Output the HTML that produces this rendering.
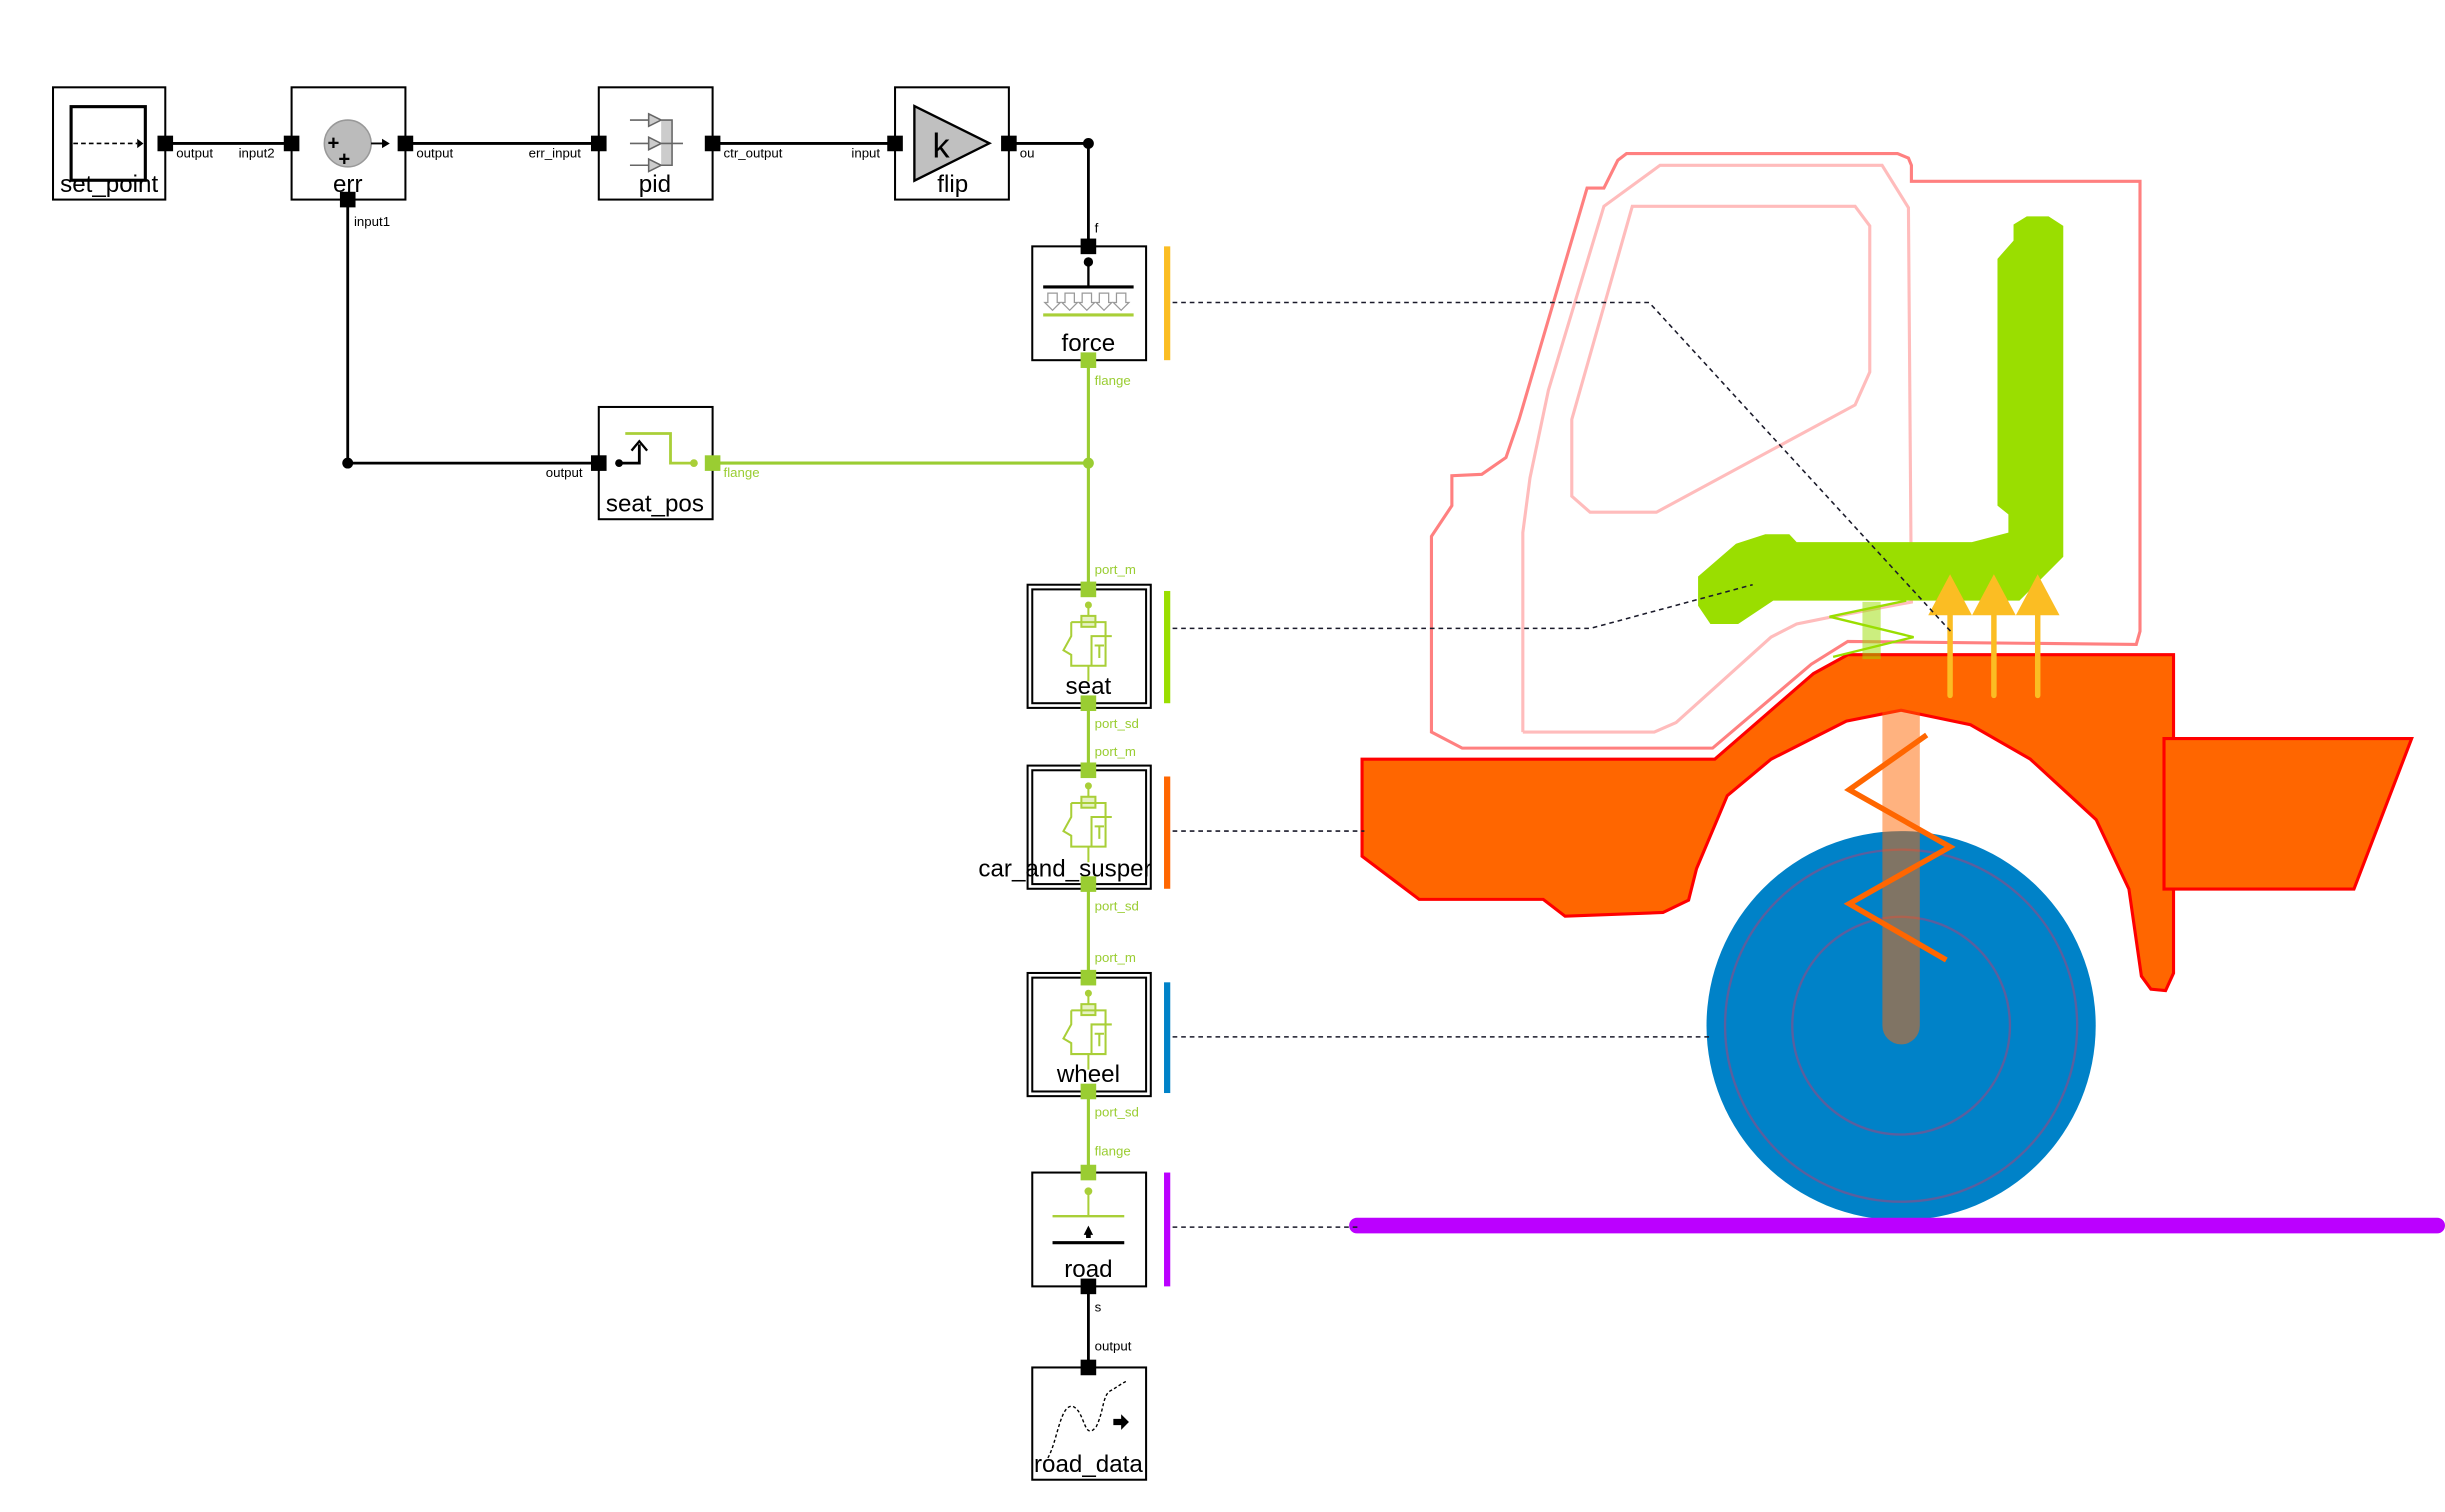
<!DOCTYPE html>
<html><head><meta charset="utf-8"><style>
html,body{margin:0;padding:0;background:#fff;}
svg{display:block;}
text{font-family:"Liberation Sans",sans-serif;}
.lbl{font-size:15.5px;fill:#000;text-anchor:middle;}
.sm{font-size:8.5px;fill:#000;}
.gs{font-size:8.5px;fill:#9acd32;}
</style></head><body>
<svg width="2445" height="1512" viewBox="0 0 1568 969.7" preserveAspectRatio="none" xmlns="http://www.w3.org/2000/svg">
<defs>
<g id="spr" fill="none" stroke="#a9cf38" stroke-width="1.3">
  <circle cx="0" cy="13" r="1.6" fill="#a9cf38"/>
  <line x1="0" y1="13" x2="0" y2="20"/>
  <rect x="-4.5" y="20" width="9" height="7" fill="#e6f2c4"/>
  <path d="M-11,24 H11 V52 H-11 V45 L-16,42 L-11,33 V24"/>
  <path d="M2,52 V33 H15 M4,39 H10 M7,39 V47"/>
  <line x1="0" y1="52" x2="0" y2="62"/>
</g>
</defs>

<g stroke="#000" stroke-width="1.8" fill="none">
  <line x1="106" y1="92" x2="187" y2="92"/>
  <line x1="260" y1="92" x2="384" y2="92"/>
  <line x1="457" y1="92" x2="574" y2="92"/>
  <polyline points="647,92 698,92 698,158"/>
  <polyline points="223,128 223,297 384,297"/>
  <line x1="698" y1="825" x2="698" y2="877"/>
</g>
<circle cx="698" cy="92" r="3.5"/>
<circle cx="223" cy="297" r="3.5"/>
<g stroke="#9acd32" stroke-width="2" fill="none">
  <line x1="457" y1="297" x2="698" y2="297"/>
  <line x1="698" y1="231" x2="698" y2="752"/>
</g>
<circle cx="698" cy="297" r="3.5" fill="#9acd32"/>

<g fill="#fff" stroke="#000" stroke-width="1.3">
  <rect x="34" y="56" width="72" height="72"/>
  <rect x="187" y="56" width="73" height="72"/>
  <rect x="384" y="56" width="73" height="72"/>
  <rect x="574" y="56" width="73" height="72"/>
  <rect x="662" y="158" width="73" height="73"/>
  <rect x="384" y="261" width="73" height="72"/>
  <rect x="662" y="752" width="73" height="73"/>
  <rect x="662" y="877" width="73" height="72"/>
  <rect x="659" y="375" width="79" height="79"/>
  <rect x="662" y="378" width="73" height="73"/>
  <rect x="659" y="491" width="79" height="79"/>
  <rect x="662" y="494" width="73" height="73"/>
  <rect x="659" y="624" width="79" height="79"/>
  <rect x="662" y="627" width="73" height="73"/>
</g>

<rect x="45.6" y="68.4" width="47.6" height="47.2" fill="none" stroke="#000" stroke-width="2"/>
<line x1="47" y1="92" x2="88" y2="92" stroke="#000" stroke-width="1" stroke-dasharray="3,2"/>
<path d="M88,89 L92,92 L88,95Z"/>
<ellipse cx="223" cy="92" rx="15" ry="15" fill="#bbb" stroke="#999"/>
<text x="210" y="96" font-size="13" font-weight="bold">+</text>
<text x="217" y="106" font-size="13" font-weight="bold">+</text>
<line x1="238" y1="92" x2="246" y2="92" stroke="#000" stroke-width="1.2"/><path d="M245,89 L250,92 L245,95Z"/>
<g stroke="#666" stroke-width="1" fill="#ccc">
  <path d="M404,77 H416 M416,73 L424,77 L416,81Z M424,77 H431 V106 H424 M404,92 H416 M416,88 L424,92 L416,96Z M424,92 H438 M404,106 H416 M416,102 L424,106 L416,110Z"/>
</g>
<path d="M586.4,68 L634.5,91.9 L586.4,115.9Z" fill="#c0c0c0" stroke="#000" stroke-width="1.5"/>
<text x="598" y="101" font-size="22">k</text>
<circle cx="698" cy="168" r="3"/>
<line x1="698" y1="168" x2="698" y2="184" stroke="#000" stroke-width="1.5"/>
<line x1="669" y1="184" x2="727" y2="184" stroke="#000" stroke-width="2"/>
<g fill="none" stroke="#999" stroke-width="0.8">
  <path d="M672,188 V194 H670 L675,199 L680,194 H678 V188Z"/>
  <path d="M683,188 V194 H681 L686,199 L691,194 H689 V188Z"/>
  <path d="M694,188 V194 H692 L697,199 L702,194 H700 V188Z"/>
  <path d="M705,188 V194 H703 L708,199 L713,194 H711 V188Z"/>
  <path d="M716,188 V194 H714 L719,199 L724,194 H722 V188Z"/>
</g>
<line x1="669" y1="202" x2="727" y2="202" stroke="#a9cf38" stroke-width="2"/>
<polyline points="397,297 410,297 410,285" fill="none" stroke="#000" stroke-width="1.8"/>
<path d="M405,289 L410,283 L415,289" fill="none" stroke="#000" stroke-width="1.5"/>
<circle cx="397" cy="297" r="2.5"/>
<polyline points="401,278 430,278 430,297 445,297" fill="none" stroke="#a9cf38" stroke-width="1.8"/>
<circle cx="445" cy="297" r="2.5" fill="#a9cf38"/>
<use href="#spr" transform="translate(698,375)"/>
<use href="#spr" transform="translate(698,491)"/>
<use href="#spr" transform="translate(698,624)"/>
<circle cx="698" cy="764" r="2.5" fill="#a9cf38"/>
<line x1="698" y1="764" x2="698" y2="780" stroke="#a9cf38" stroke-width="1.3"/>
<line x1="675" y1="780" x2="721" y2="780" stroke="#a9cf38" stroke-width="1.5"/>
<path d="M695,792 L698,786 L701,792 H699.5 V794 H696.5 V792Z"/>
<line x1="675" y1="797" x2="721" y2="797" stroke="#000" stroke-width="2"/>
<path d="M672,935 C678,925 680,900 688,902 C696,905 695,925 703,915 C708,905 707,895 712,892 C716,890 718,888 722,886" fill="none" stroke="#000" stroke-width="0.9" stroke-dasharray="2,1.5"/>
<path d="M714,910 H719 V907 L724,912 L719,917 V914 H714Z"/>

<text class="lbl" x="70" y="123">set_point</text>
<text class="lbl" x="223" y="123">err</text>
<text class="lbl" x="420" y="123">pid</text>
<text class="lbl" x="611" y="123">flip</text>
<text class="lbl" x="698" y="225">force</text>
<text class="lbl" x="420" y="328">seat_pos</text>
<text class="lbl" x="698" y="445">seat</text>
<text class="lbl" x="683" y="562">car_and_susper</text>
<text class="lbl" x="698" y="694">wheel</text>
<text class="lbl" x="698" y="819">road</text>
<text class="lbl" x="698" y="944">road_data</text>

<g fill="#000">
  <rect x="101" y="87" width="10" height="10"/>
  <rect x="182" y="87" width="10" height="10"/>
  <rect x="255" y="87" width="10" height="10"/>
  <rect x="218" y="123" width="10" height="10"/>
  <rect x="379" y="87" width="10" height="10"/>
  <rect x="452" y="87" width="10" height="10"/>
  <rect x="569" y="87" width="10" height="10"/>
  <rect x="642" y="87" width="10" height="10"/>
  <rect x="693" y="153" width="10" height="10"/>
  <rect x="379" y="292" width="10" height="10"/>
  <rect x="693" y="820" width="10" height="10"/>
  <rect x="693" y="872" width="10" height="10"/>
</g>
<g fill="#9acd32">
  <rect x="452" y="292" width="10" height="10"/>
  <rect x="693" y="226" width="10" height="10"/>
  <rect x="693" y="373" width="10" height="10"/>
  <rect x="693" y="446" width="10" height="10"/>
  <rect x="693" y="489" width="10" height="10"/>
  <rect x="693" y="562" width="10" height="10"/>
  <rect x="693" y="622" width="10" height="10"/>
  <rect x="693" y="695" width="10" height="10"/>
  <rect x="693" y="747" width="10" height="10"/>
</g>

<text class="sm" x="113" y="101">output</text>
<text class="sm" x="153" y="101">input2</text>
<text class="sm" x="267" y="101">output</text>
<text class="sm" x="339" y="101">err_input</text>
<text class="sm" x="464" y="101">ctr_output</text>
<text class="sm" x="546" y="101">input</text>
<text class="sm" x="654" y="101">ou</text>
<text class="sm" x="227" y="145">input1</text>
<text class="sm" x="702" y="149">f</text>
<text class="sm" x="350" y="306">output</text>
<text class="sm" x="702" y="841">s</text>
<text class="sm" x="702" y="866">output</text>
<text class="gs" x="702" y="247">flange</text>
<text class="gs" x="464" y="306">flange</text>
<text class="gs" x="702" y="368">port_m</text>
<text class="gs" x="702" y="467">port_sd</text>
<text class="gs" x="702" y="485">port_m</text>
<text class="gs" x="702" y="584">port_sd</text>
<text class="gs" x="702" y="617">port_m</text>
<text class="gs" x="702" y="716">port_sd</text>
<text class="gs" x="702" y="741">flange</text>

<rect x="746.5" y="158" width="4" height="73" fill="#fbbd23"/>
<rect x="746.5" y="379" width="4" height="72" fill="#9ade00"/>
<rect x="746.5" y="498" width="4" height="72" fill="#ff6600"/>
<rect x="746.5" y="630" width="4" height="71" fill="#0082c8"/>
<rect x="746.5" y="752" width="4" height="73" fill="#bb00ff"/>

<polygon points="918,344 931.1,324.3 931.1,305.1 950.3,304.2 965.8,293.4 974.2,269 1017.8,120.6 1028.6,120.6 1037.5,102.8 1043.1,98.5 1216.9,98.5 1223.9,101.4 1225.8,106 1225.8,116.3 1372.4,116.3 1372.4,404.9 1370,413.3 1185,411.4 1161.6,426 1098.3,479.8 937.7,479.8 918,469.5" fill="none" stroke="#ff8080" stroke-width="2"/>
<polyline points="976.6,469.5 976.6,341.6 981.2,306.5 993,250.3 1028.6,132.3 1064.6,106 1207,106 1223.9,133.2 1225.8,386.1 1171,396.4 1152.2,400.2 1135.8,408.6 1074.9,463.4 1060.9,469.5 976.6,469.5" fill="none" stroke="#ffbcbc" stroke-width="2"/>
<polygon points="1046.8,132.3 1189.7,132.3 1199.1,144.9 1199.1,238.6 1189.7,259.7 1062.3,328.5 1019.7,328.5 1008,318.2 1008,269" fill="none" stroke="#ffbcbc" stroke-width="2"/>

<polygon points="873.5,486.9 1099.7,486.9 1163,432 1185,419.9 1393.9,419.9 1393.9,624.1 1388.8,635.3 1379.4,634.4 1373.3,626 1365.3,570.2 1344.3,525.7 1302.1,486.9 1263.7,464.8 1219.2,455.5 1184.1,462.5 1135.8,486.9 1107.7,510.3 1088,557.1 1082.9,577.3 1066.5,585.2 1003.7,587.6 989.7,576.8 910.1,576.8 873.5,549.1" fill="#ff6600" stroke="#ff0000" stroke-width="2"/>
<polygon points="1387.8,473.7 1546.6,473.7 1509.6,570.2 1387.8,570.2" fill="#ff6600" stroke="#ff0000" stroke-width="2"/>

<circle cx="1219.2" cy="657.8" r="124.8" fill="#0082c8"/>
<circle cx="1219.2" cy="657.8" r="112.9" fill="none" stroke="#5b5f9e" stroke-width="1.5"/>
<circle cx="1219.2" cy="657.8" r="69.8" fill="none" stroke="#5b5f9e" stroke-width="1.5"/>

<line x1="1219.2" y1="456" x2="1219.2" y2="657.8" stroke="rgba(255,102,0,0.5)" stroke-width="24" stroke-linecap="round"/>
<polyline points="1235.6,471.4 1185.9,506.5 1250.6,543.1 1185.9,579.6 1248.2,615.7" fill="none" stroke="#ff6600" stroke-width="3.5"/>

<polygon points="1089,369.7 1113.3,348.7 1132.1,342.6 1147.5,342.6 1152.2,347.7 1264.6,347.7 1288,341.6 1288,329.9 1281,324.3 1281,166 1291.3,154.3 1291.3,144 1299.8,138.8 1313.8,138.8 1323.2,144.9 1323.2,357.1 1295.1,385.2 1137.2,385.2 1114.7,400.2 1096.9,400.2 1089,388.5" fill="#9ade00"/>
<rect x="1194.4" y="386" width="11.7" height="36.7" fill="rgba(154,222,0,0.5)"/>
<polyline points="1222.5,385.2 1173.3,395.5 1227.2,408.6 1175.6,421.3" fill="none" stroke="#9ade00" stroke-width="1.5"/>

<g stroke="#fbbd23" stroke-width="3.5" stroke-linecap="round" fill="#fbbd23">
  <line x1="1250.6" y1="392" x2="1250.6" y2="446"/>
  <line x1="1278.7" y1="392" x2="1278.7" y2="446"/>
  <line x1="1306.8" y1="392" x2="1306.8" y2="446"/>
</g>
<g fill="#fbbd23">
  <polygon points="1236.6,394.6 1250.6,368.3 1264.6,394.6"/>
  <polygon points="1264.7,394.6 1278.7,368.3 1292.7,394.6"/>
  <polygon points="1292.8,394.6 1306.8,368.3 1320.8,394.6"/>
</g>

<line x1="870.2" y1="786" x2="1563" y2="786" stroke="#bb00ff" stroke-width="10" stroke-linecap="round"/>

<g stroke="#1a1a2a" stroke-width="1" fill="none" stroke-dasharray="3,2.5">
  <polyline points="752,194 1057.6,194 1252,406"/>
  <polyline points="752,403 1020,403 1124,375"/>
  <line x1="752" y1="533" x2="875" y2="533"/>
  <line x1="752" y1="665" x2="1096" y2="665"/>
  <line x1="752" y1="787" x2="872" y2="787"/>
</g>
</svg>
</body></html>
